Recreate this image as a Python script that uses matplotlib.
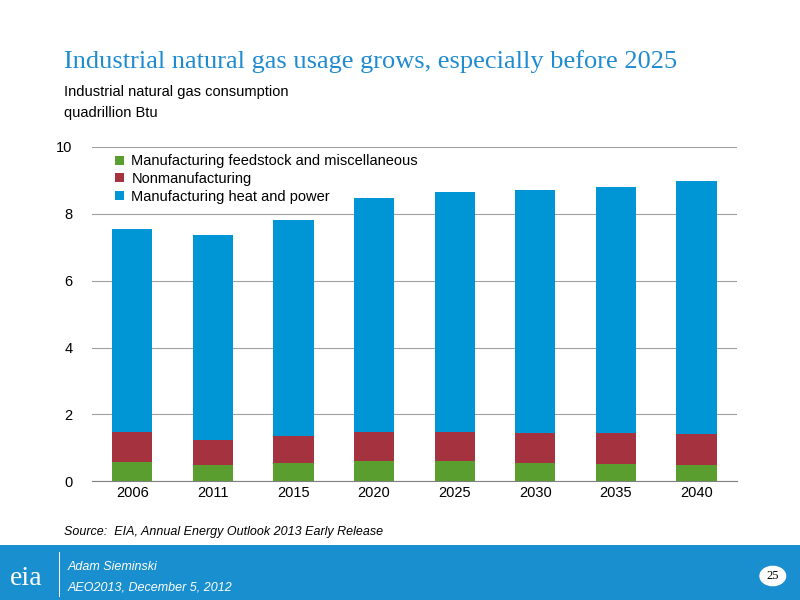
import numpy as np
import matplotlib.pyplot as plt
from matplotlib.patches import Rectangle, Circle

plt.rcParams['font.family'] = ['Liberation Sans', 'DejaVu Sans']

years = ['2006', '2011', '2015', '2020', '2025', '2030', '2035', '2040']
feedstock = [0.57, 0.48, 0.54, 0.60, 0.60, 0.54, 0.51, 0.48]
nonmanuf = [0.90, 0.75, 0.81, 0.87, 0.87, 0.90, 0.93, 0.93]
heat_power = [6.07, 6.14, 6.46, 7.00, 7.18, 7.27, 7.36, 7.57]

green = '#5a9e2f'
red = '#a5323f'
blue = '#0096d6'

fig = plt.figure(figsize=(8, 6), dpi=100)

# footer band
fig.add_artist(Rectangle((0, 0), 1, 0.092, transform=fig.transFigure, color='#1a8fd0', lw=0))
fig.text(0.08, 0.887, 'Industrial natural gas usage grows, especially before 2025',
         fontsize=19, color='#1f8bd0', family='Liberation Serif')
fig.text(0.08, 0.84, 'Industrial natural gas consumption', fontsize=10.5)
fig.text(0.08, 0.805, 'quadrillion Btu', fontsize=10.5)
fig.text(0.08, 0.108, 'Source:  EIA, Annual Energy Outlook 2013 Early Release', fontsize=9, style='italic')
fig.text(0.012, 0.025, 'eia', fontsize=20, color='white', family='Liberation Serif')
fig.add_artist(Rectangle((0.074, 0.005), 0.0015, 0.075, transform=fig.transFigure, color='white', lw=0))
fig.text(0.085, 0.05, 'Adam Sieminski', fontsize=9, color='white', style='italic')
fig.text(0.085, 0.015, 'AEO2013, December 5, 2012', fontsize=9, color='white', style='italic')
fig.add_artist(Circle((0.966, 0.04), 0.016, transform=fig.transFigure, color='white'))
fig.text(0.966, 0.04, '25', fontsize=9, ha='center', va='center', family='Liberation Serif')

ax = fig.add_axes([0.115, 0.198, 0.806, 0.557])
x = np.arange(len(years))
w = 0.5
ax.bar(x, feedstock, w, color=green, label='Manufacturing feedstock and miscellaneous')
ax.bar(x, nonmanuf, w, bottom=feedstock, color=red, label='Nonmanufacturing')
base = np.array(feedstock) + np.array(nonmanuf)
ax.bar(x, heat_power, w, bottom=base, color=blue, label='Manufacturing heat and power')

ax.set_ylim(0, 10)
ax.set_xlim(-0.5, len(years) - 0.5)
ax.set_yticks(range(0, 11, 2))
ax.set_xticks(x)
ax.set_xticklabels(years)
ax.tick_params(labelsize=10.5, length=0)
ax.tick_params(axis='y', pad=14)
ax.yaxis.grid(True, color='#a0a0a0', lw=0.8)
ax.set_axisbelow(True)
for s in ['top', 'right', 'left']:
    ax.spines[s].set_visible(False)
ax.spines['bottom'].set_color('#808080')

ax.legend(loc='upper left', frameon=False, fontsize=10.5, handlelength=0.6, handleheight=0.6,
          labelspacing=0.25, handletextpad=0.5, borderaxespad=0.1, bbox_to_anchor=(0.025, 1.0))

fig.savefig('out.png')
